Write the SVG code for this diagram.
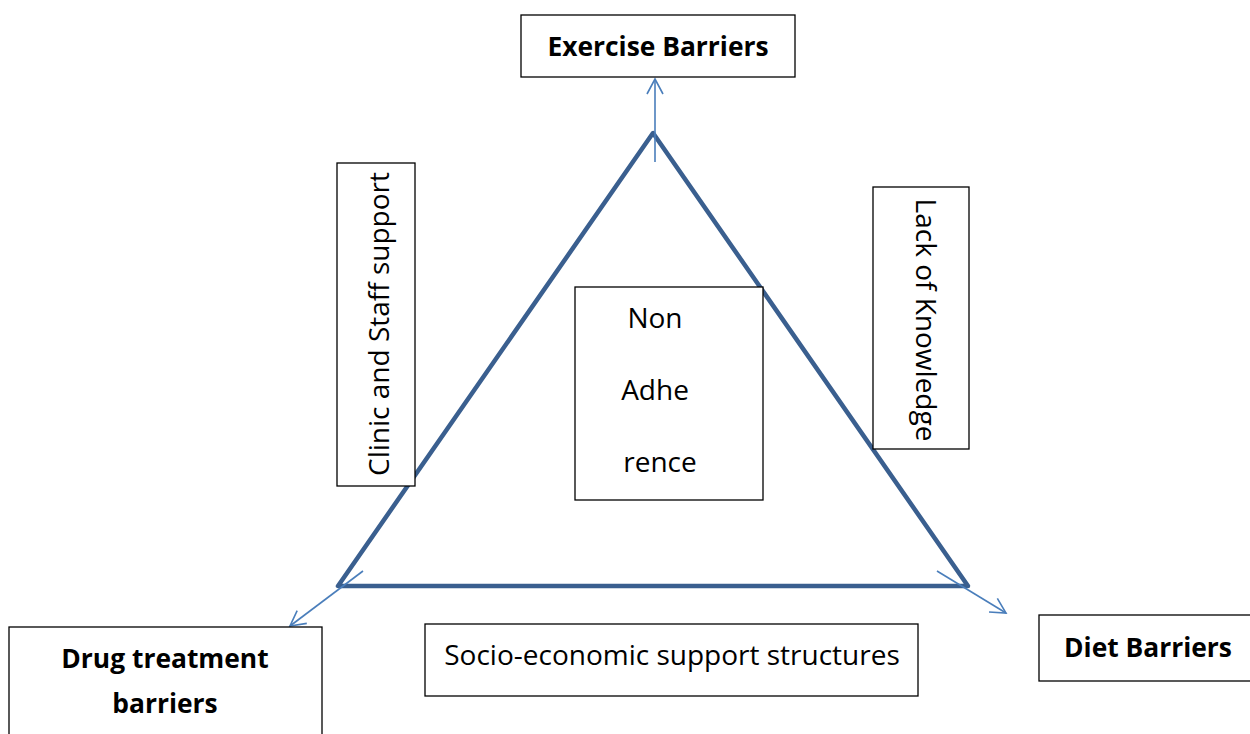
<svg xmlns="http://www.w3.org/2000/svg" width="1250" height="734" viewBox="0 0 1250 734">
<defs>
<marker id="arr" markerWidth="24" markerHeight="24" refX="17" refY="12" orient="auto" markerUnits="userSpaceOnUse">
<path d="M2,4 L17,12 L2,20" fill="none" stroke="#4a7ebb" stroke-width="1.6"/>
</marker>
<style>
.box{fill:#fff;stroke:#000;stroke-width:1.3}
.b{font-family:"Open Sans","Liberation Sans",sans-serif;font-weight:bold;font-size:26.4px;fill:#000;text-anchor:middle}
.r{font-family:"Open Sans","Liberation Sans",sans-serif;font-size:28px;fill:#000;text-anchor:middle}
.tri{fill:none;stroke:#3a5f8f;stroke-width:4.5;stroke-linejoin:round}
.con{stroke:#4a7ebb;stroke-width:1.6;fill:none}
</style>
</defs>
<rect width="1250" height="734" fill="#fff"/>
<g id="triangle"><path class="tri" d="M653,133 L338,586 L968,586 Z"/></g>
<g id="connectors">
<line class="con" x1="655" y1="162" x2="655" y2="79" marker-end="url(#arr)"/>
<line class="con" x1="363" y1="571" x2="290" y2="626" marker-end="url(#arr)"/>
<line class="con" x1="937" y1="571" x2="1006" y2="613" marker-end="url(#arr)"/>
</g>
<g id="exercise"><rect class="box" x="521" y="15" width="274" height="62"/><text class="b" x="658" y="56">Exercise Barriers</text></g>
<g id="clinic"><rect class="box" x="337" y="163" width="78" height="323"/><text class="r" transform="translate(389,324) rotate(-90)">Clinic and Staff support</text></g>
<g id="knowledge"><rect class="box" x="873" y="187" width="96" height="262"/><text class="r" transform="translate(916,320) rotate(90)">Lack of Knowledge</text></g>
<g id="nonadherence"><rect class="box" x="575" y="287" width="188" height="213"/>
<text class="r" x="655" y="328">Non</text><text class="r" x="655" y="400">Adhe</text><text class="r" x="660" y="472">rence</text></g>
<g id="socio"><rect class="box" x="425" y="624" width="493" height="72"/><text class="r" x="672" y="665">Socio-economic support structures</text></g>
<g id="drug"><rect class="box" x="9" y="627" width="313" height="120"/><text class="b" x="165" y="668">Drug treatment</text><text class="b" x="165" y="713">barriers</text></g>
<g id="diet"><rect class="box" x="1039" y="615" width="215" height="66"/><text class="b" x="1148" y="657">Diet Barriers</text></g>
</svg>
